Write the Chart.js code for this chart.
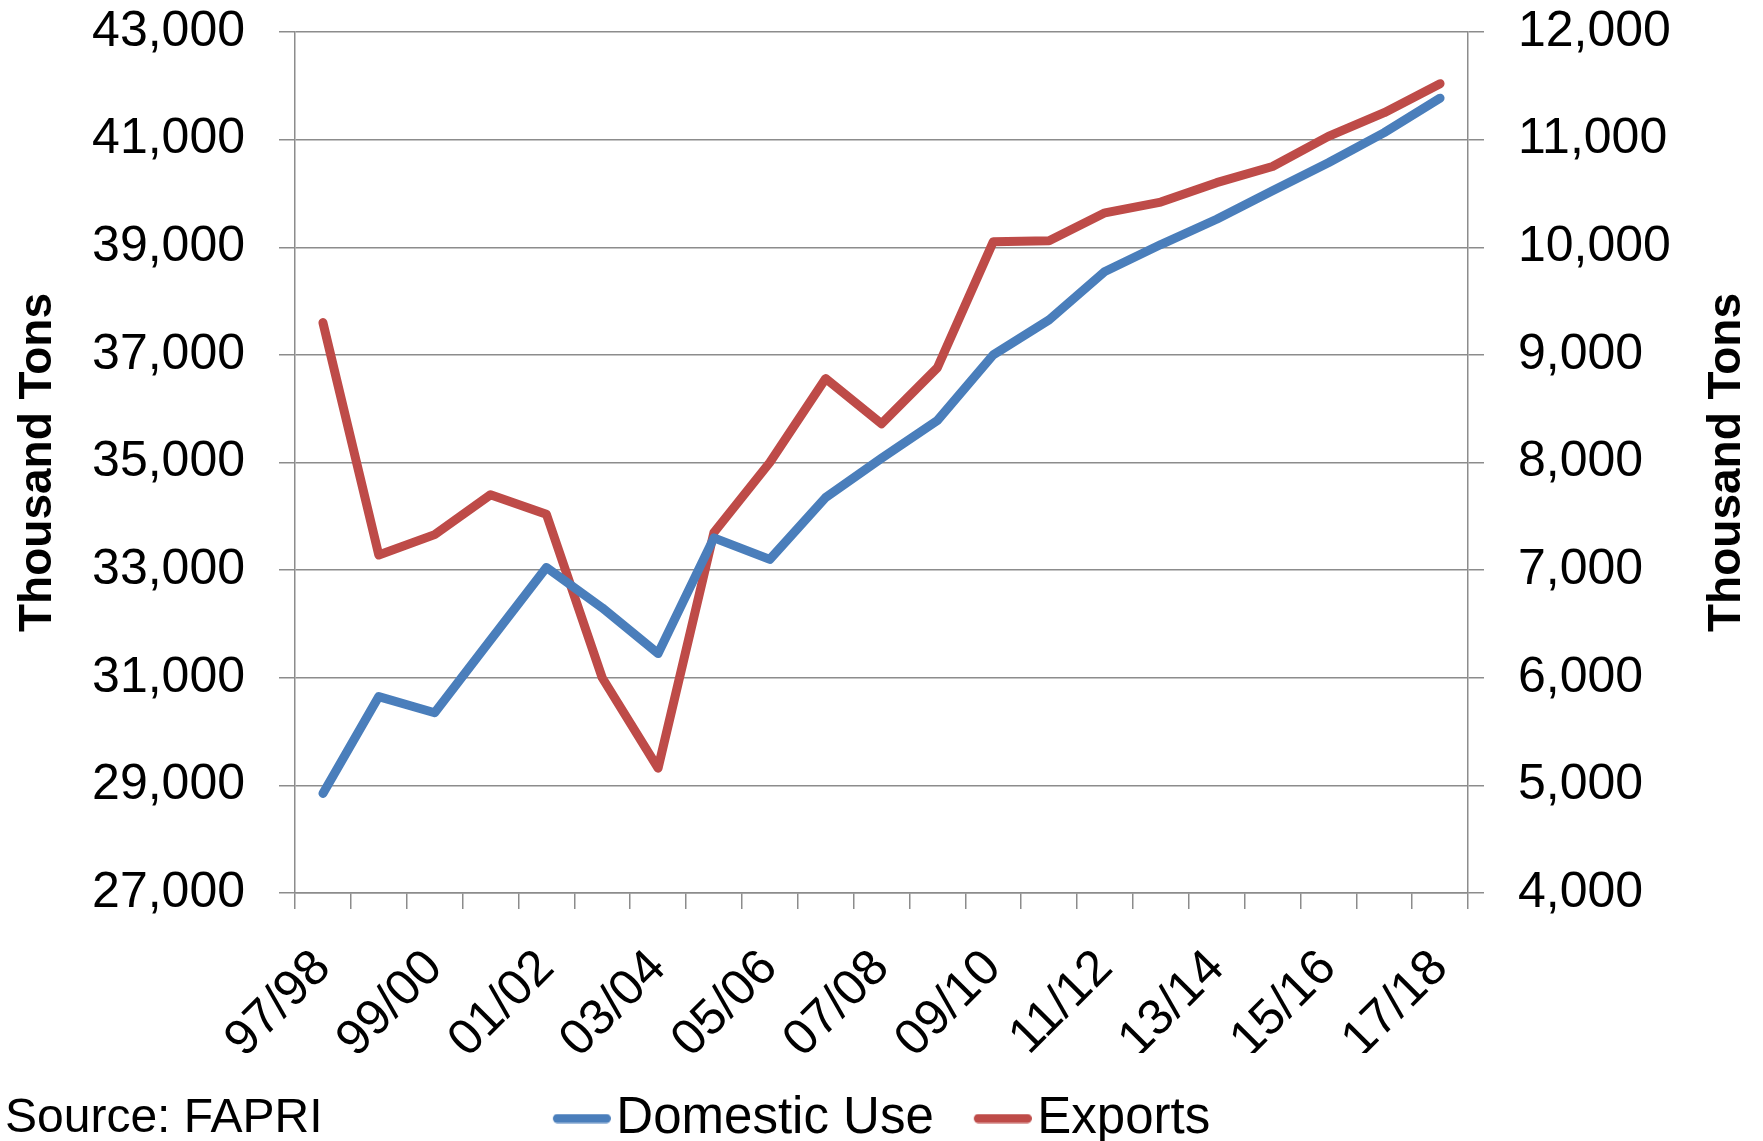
<!DOCTYPE html>
<html>
<head>
<meta charset="utf-8">
<title>Domestic Use and Exports</title>
<script src="https://cdn.jsdelivr.net/npm/chart.js@4.4.1/dist/chart.umd.min.js"></script>
<style>
    html, body { margin: 0; padding: 0; background: #fff; overflow: hidden; }
    #wrap { width: 1763px; height: 1141px; position: relative; }
</style>
</head>
<body>
<div id="wrap"><canvas id="usageChart"></canvas></div>
<script>
// Marketing years, 97/98 through 17/18
const years = ['97/98', '98/99', '99/00', '00/01', '01/02', '02/03', '03/04', '04/05', '05/06', '06/07',
    '07/08', '08/09', '09/10', '10/11', '11/12', '12/13', '13/14', '14/15', '15/16', '16/17', '17/18'];

// Thousand tons, left axis
const domesticUse = [28850, 30650, 30350, 31700, 33050, 32300, 31450, 33600, 33200, 34350,
    35080, 35780, 37000, 37650, 38550, 39050, 39520, 40050, 40570, 41130, 41770];

// Thousand tons, right axis
const exportsTons = [9300, 7140, 7330, 7700, 7520, 6000, 5160, 7350, 8000, 8780,
    8360, 8880, 10050, 10060, 10320, 10420, 10600, 10750, 11030, 11250, 11520];

const leftAxis = { min: 27000, max: 43000, step: 2000 };
const rightAxis = { min: 4000, max: 12000, step: 1000 };

const axisTitle = 'Thousand Tons';
const sourceNote = 'Source: FAPRI';

const blue = '#4a7ebb';
const red = '#be4b48';
const gridColor = '#8c8c8c';
const fontFamily = '"Liberation Sans", Arial, sans-serif';

// legend symbol: a short rounded line sitting in the right part of the image,
// so it starts at the item's left edge and ends just before the text
function legendLine(color) {
    const c = document.createElement('canvas');
    c.width = 78;
    c.height = 10;
    const g = c.getContext('2d');
    g.strokeStyle = color;
    g.lineWidth = 9;
    g.lineCap = 'round';
    g.beginPath();
    g.moveTo(24.5, 5);
    g.lineTo(73.5, 5);
    g.stroke();
    return c;
}

// right title reads bottom-to-top like the left one, plus the source line
const extraText = {
    id: 'extraText',
    afterDraw(chart) {
        const { ctx, chartArea } = chart;
        ctx.save();
        ctx.fillStyle = '#000';
        ctx.font = 'bold 46px ' + fontFamily;
        ctx.textAlign = 'center';
        ctx.textBaseline = 'middle';
        ctx.translate(1727, (chartArea.top + chartArea.bottom) / 2);
        ctx.rotate(-Math.PI / 2);
        ctx.fillText(axisTitle, 0, 0);
        ctx.restore();

        ctx.save();
        ctx.fillStyle = '#000';
        ctx.font = '48px ' + fontFamily;
        ctx.textAlign = 'left';
        ctx.textBaseline = 'middle';
        ctx.fillText(sourceNote, 5, 1119);
        ctx.restore();
    }
};

const fmt = v => Number(v).toLocaleString('en-US');

// fixed side widths; drop the label overhang padding so the plot starts at the top padding
function fitSide(scale) {
    scale.width = 295;
    scale.paddingTop = 20;
    scale.paddingBottom = 20;
}

const ctx = document.getElementById('usageChart').getContext('2d');
new Chart(ctx, {
    type: 'line',
    data: {
        labels: years,
        datasets: [{
            label: 'Domestic Use',
            data: domesticUse,
            yAxisID: 'y',
            borderColor: blue,
            backgroundColor: blue,
            borderWidth: 9,
            borderCapStyle: 'round',
            borderJoinStyle: 'round',
            pointRadius: 0,
            pointStyle: legendLine(blue),
            tension: 0
        }, {
            label: 'Exports',
            data: exportsTons,
            yAxisID: 'y1',
            borderColor: red,
            backgroundColor: red,
            borderWidth: 9,
            borderCapStyle: 'round',
            borderJoinStyle: 'round',
            pointRadius: 0,
            pointStyle: legendLine(red),
            tension: 0
        }]
    },
    options: {
        responsive: true,
        maintainAspectRatio: false,
        animation: false,
        layout: { padding: { top: 32, left: 0, right: 0, bottom: -13 } },
        plugins: {
            legend: {
                position: 'bottom',
                labels: {
                    usePointStyle: true,
                    pointStyleWidth: 38,
                    padding: 40,
                    color: '#000',
                    font: { family: fontFamily, size: 51 }
                }
            },
            tooltip: { enabled: false }
        },
        scales: {
            x: {
                offset: true,
                afterFit(scale) { scale.height = 160; },
                grid: {
                    display: true,
                    offset: true,
                    drawOnChartArea: false,
                    drawTicks: true,
                    tickLength: 16,
                    color: gridColor,
                    lineWidth: 1.5
                },
                border: { display: true, color: gridColor, width: 1.5 },
                ticks: {
                    autoSkip: false,
                    minRotation: 45,
                    maxRotation: 45,
                    padding: 30,
                    color: '#000',
                    font: { family: fontFamily, size: 50 },
                    callback: function (value, index) {
                        return index % 2 === 0 ? this.getLabelForValue(value) : '';
                    }
                }
            },
            y: {
                position: 'left',
                min: leftAxis.min,
                max: leftAxis.max,
                afterFit: fitSide,
                title: {
                    display: true,
                    text: axisTitle,
                    color: '#000',
                    padding: { top: 11, bottom: 0 },
                    font: { family: fontFamily, size: 46, weight: 'bold' }
                },
                grid: {
                    color: gridColor,
                    lineWidth: 1.5,
                    drawTicks: true,
                    tickLength: 16
                },
                border: { display: true, color: gridColor, width: 1.5 },
                ticks: {
                    stepSize: leftAxis.step,
                    padding: 34,
                    color: '#000',
                    font: { family: fontFamily, size: 50 },
                    callback: fmt
                }
            },
            y1: {
                position: 'right',
                min: rightAxis.min,
                max: rightAxis.max,
                afterFit: fitSide,
                grid: {
                    drawOnChartArea: false,
                    drawTicks: true,
                    tickLength: 16,
                    color: gridColor,
                    lineWidth: 1.5
                },
                border: { display: true, color: gridColor, width: 1.5 },
                ticks: {
                    stepSize: rightAxis.step,
                    padding: 34,
                    color: '#000',
                    font: { family: fontFamily, size: 50 },
                    callback: fmt
                }
            }
        }
    },
    plugins: [extraText]
});
</script>
</body>
</html>
